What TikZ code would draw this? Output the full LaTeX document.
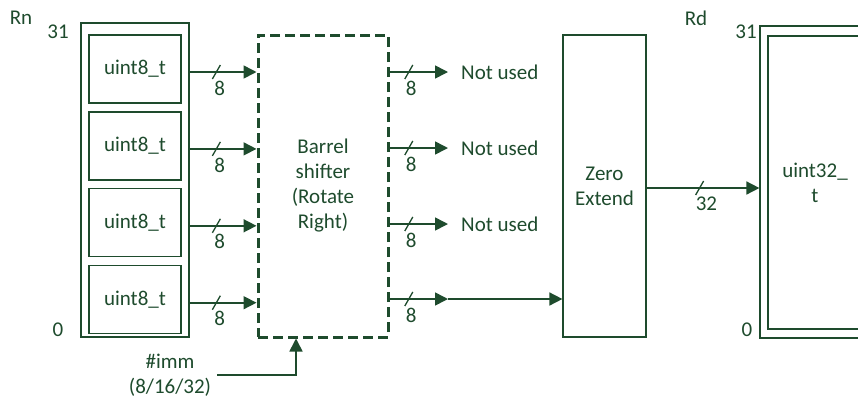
\documentclass[tikz,border=0pt]{standalone}
\usepackage{fontspec}
\setmainfont{Carlito}
\usetikzlibrary{arrows.meta, positioning, decorations.markings}
\definecolor{dkgreen}{HTML}{1E4B2D}

\begin{document}
\begin{tikzpicture}[
    x=1pt, y=-1pt,
    node distance=7.7pt,
    every node/.style={text=dkgreen, font=\fontsize{21}{25}\selectfont},
    box/.style={rectangle, draw=dkgreen, line width=1.2pt, inner sep=0pt, align=center},
    byte/.style={box, minimum width=92pt, minimum height=68pt},
    unit/.style={box, minimum height=302pt},
    wire/.style={draw=dkgreen, line width=1.6pt, -{Triangle[length=13pt, width=13pt]}},
    bus/.style={postaction={decorate, decoration={markings,
        mark=at position #1 with {\draw[dkgreen, line width=1.3pt, -] (-4pt,-7pt) -- (4pt,7pt);}}}},
    buslbl/.style={below=8pt, inner sep=0pt},
]
\useasboundingbox (0,0) rectangle (858,400);
\clip (0,0) rectangle (858,400);

% Source register Rn
\node[box, minimum width=108pt, minimum height=314pt] (rn) at (135,180) {};
\node[byte]                  (b1) at (135,69) {uint8\_t};
\node[byte, below=of b1]     (b2) {uint8\_t};
\node[byte, below=of b2]     (b3) {uint8\_t};
\node[byte, below=of b3]     (b4) {uint8\_t};
\node (rnname) at (21,18)  {Rn};
\node (rnhi)   at (58,32)  {31};
\node (rnlo)   at (58,330) {0};

% Barrel shifter and zero extend
\node[unit, minimum width=130pt, line width=3pt, dash pattern=on 10pt off 5pt] (shifter) at (323,186)
    {Barrel\\shifter\\(Rotate\\Right)};
\node[unit, minimum width=83pt] (zero) at (604.5,186) {Zero\\Extend};
\node[align=center, inner xsep=6pt] (imm) at (170,375) {\#imm\\(8/16/32)};

% Destination register Rd
\node[box, minimum width=110pt, minimum height=312pt] (rd) at (815,182) {};
\node[box, minimum width=94pt, minimum height=293pt] (rdin) at (815,182.5) {uint32\_\\t};
\node (rdname) at (696,18)  {Rd};
\node (rdhi)   at (746,32)  {31};
\node (rdlo)   at (747,330) {0};

% Outputs of the shifter
\node[anchor=west, inner xsep=13pt] (nu1) at (448,72)  {Not used};
\node[anchor=west, inner xsep=13pt] (nu2) at (448,148) {Not used};
\node[anchor=west, inner xsep=13pt] (nu3) at (448,224) {Not used};
\coordinate (o4) at (448,299);

% Bytes into the shifter
\foreach \src in {b1,b2,b3,b4}
    \draw[wire, bus=0.4] ([yshift=-3pt]\src.east -| rn.east) -- node[pos=0.45, buslbl]{8}
        ([yshift=-3pt]\src.east -| shifter.west);

% Shifter out
\foreach \n in {nu1,nu2,nu3}
    \draw[wire, bus=0.33] (\n.west -| shifter.east) -- node[pos=0.37, buslbl]{8} (\n.west);
\draw[wire, bus=0.33] (o4 -| shifter.east) -- node[pos=0.37, buslbl]{8} (o4);
\draw[wire] (o4) -- (o4 -| zero.west);

% Zero extend to Rd
\draw[wire, bus=0.47] ([yshift=-2pt]zero.east) -- node[pos=0.53, buslbl]{32}
    ([yshift=-2pt]zero.east -| rd.west);

% Immediate into the shifter
\draw[wire] (imm.east) -| ([xshift=-27pt]shifter.south);

\end{tikzpicture}
\end{document}
